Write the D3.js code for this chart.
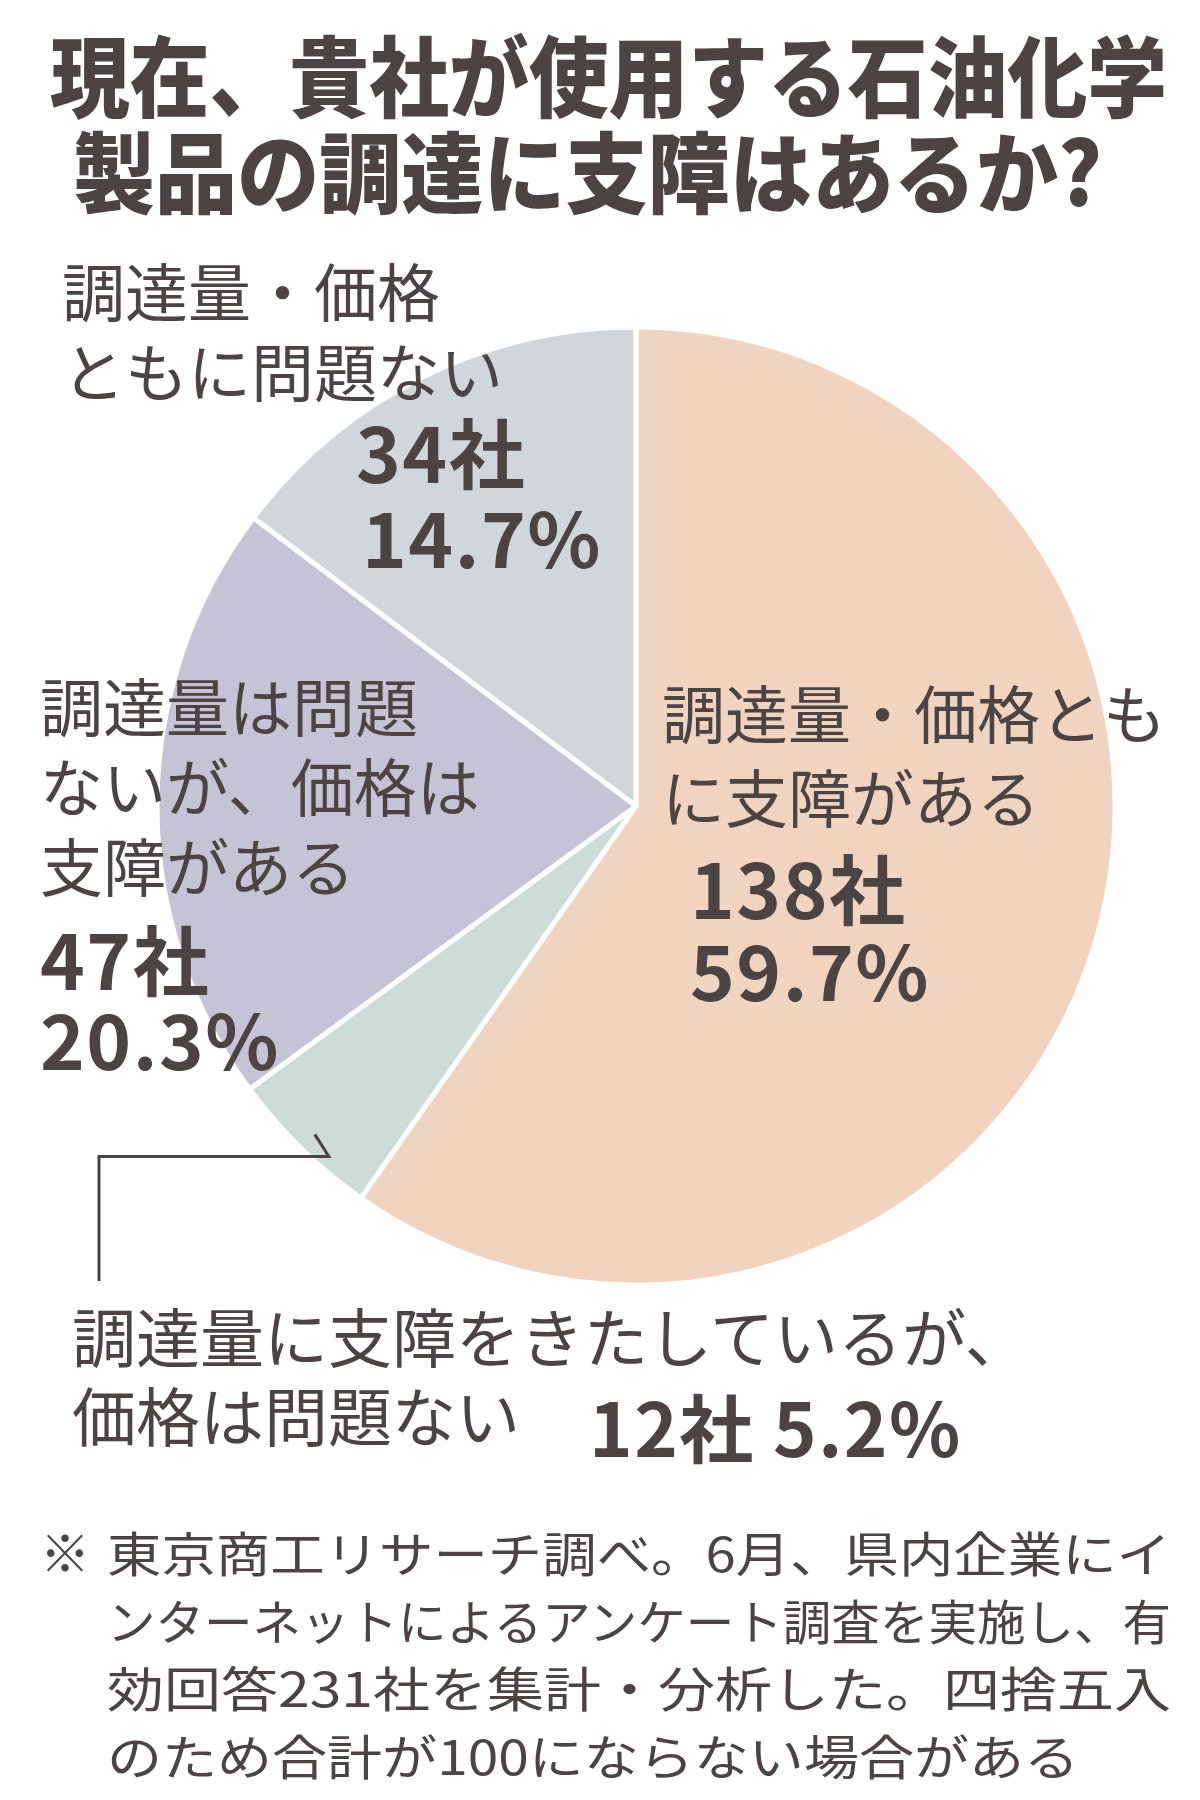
<!DOCTYPE html>
<html>
<head>
<meta charset="utf-8">
<script src="https://cdn.jsdelivr.net/npm/d3@7"></script>
<style>
  body { margin: 0; background: #fff; }
  svg { display: block; }
</style>
</head>
<body>
<svg id="chart" width="1200" height="1800"></svg>
<script>
// survey answers, clockwise from 12 o'clock
const categories = [
    '調達量・価格ともに支障がある',
    '調達量に支障をきたしているが、価格は問題ない',
    '調達量は問題ないが、価格は支障がある',
    '調達量・価格ともに問題ない'
];
const counts = [138, 12, 47, 34];
const percents = ['59.7%', '5.2%', '20.3%', '14.7%'];
const sliceColors = ['#f0d4c0', '#ccdcd8', '#c5c4d7', '#d1d6da'];

const titleLines = ['現在、貴社が使用する石油化学', '製品の調達に支障はあるか?'];
const noteLines = [
    '東京商工リサーチ調べ。6月、県内企業にイ',
    'ンターネットによるアンケート調査を実施し、有',
    '効回答231社を集計・分析した。四捨五入',
    'のため合計が100にならない場合がある'
];

const ink = '#4b4443';
const font = "'Noto Sans CJK JP', 'Noto Sans', sans-serif";

let svg = d3.select('#chart');

// title (a little taller than wide, like the condensed gothic of the original)
let titleBox = [{x: 50, y: 71, w: 1117}, {x: 73, y: 167, w: 1029}];
svg.selectAll('.title')
    .data(titleLines)
    .enter()
    .append('text')
        .attr('class', 'title')
        .attr('transform', (d, i) => 'translate(' + titleBox[i].x + ',' + titleBox[i].y + ') scale(1,1.1)')
        .attr('textLength', (d, i) => titleBox[i].w)
        .attr('lengthAdjust', 'spacingAndGlyphs')
        .attr('dominant-baseline', 'central')
        .attr('font-family', font)
        .attr('font-weight', 900)
        .attr('font-size', 80)
        .attr('fill', ink)
        .text(d => d);

// pie
let cx = 636, cy = 806, radius = 479;
let data = categories.map((c, i) => ({category: c, count: counts[i], pct: percents[i]}));

let pie = d3.pie()
    .sort(null)
    .value(d => d.count);

let arc = d3.arc()
    .innerRadius(0)
    .outerRadius(radius);

let arcs = pie(data);

let colorScale = d3.scaleOrdinal()
    .domain(categories)
    .range(sliceColors);

let g = svg.append('g')
    .attr('transform', 'translate(' + cx + ',' + cy + ')');

g.selectAll('path')
    .data(arcs)
    .enter()
    .append('path')
        .attr('d', arc)
        .attr('fill', d => colorScale(d.data.category))
        .attr('stroke', '#fff')
        .attr('stroke-width', 5)
        .attr('stroke-linejoin', 'round');

// leader line for the small slice
let small = arcs[1];
let anchor = d3.pointRadial(small.startAngle + (small.endAngle - small.startAngle) * 0.33, 466);
let ax = cx + anchor[0], ay = cy + anchor[1];
svg.append('path')
    .attr('d', d3.line()([[99, 1281], [99, ay], [ax, ay], [ax - 14, ay - 22]]))
    .attr('fill', 'none')
    .attr('stroke', ink)
    .attr('stroke-width', 3);

// labels: name lines, then count and share in bold
function label(x, y, lines, gap, numX, numY, numLines, numGap, size, numSize) {
    lines.forEach((t, i) => {
        svg.append('text')
            .attr('x', x)
            .attr('y', y + i * gap)
            .attr('dominant-baseline', 'central')
            .attr('font-family', font)
            .attr('font-weight', 400)
            .attr('font-size', size || 63)
            .attr('fill', ink)
            .text(t);
    });
    numLines.forEach((t, i) => {
        svg.append('text')
            .attr('x', numX)
            .attr('y', numY + i * numGap)
            .attr('dominant-baseline', 'central')
            .attr('font-family', font)
            .attr('font-weight', 700)
            .attr('font-size', numSize || 76)
            .attr('letter-spacing', 1.5)
            .attr('fill', ink)
            .text(t);
    });
}

label(662, 710, ['調達量・価格とも', 'に支障がある'], 84,
    690, 886, [data[0].count + '社', data[0].pct], 82);
label(40, 703, ['調達量は問題', 'ないが、価格は', '支障がある'], 80,
    40, 957, [data[2].count + '社', data[2].pct], 80);
label(62, 288, ['調達量・価格', 'ともに問題ない'], 80,
    356, 450, [data[3].count + '社'], 0);
svg.append('text')
    .attr('x', 362).attr('y', 535)
    .attr('dominant-baseline', 'central')
    .attr('font-family', font).attr('font-weight', 700)
    .attr('font-size', 76).attr('letter-spacing', 1.5)
    .attr('fill', ink)
    .text(data[3].pct);
label(72, 1334, ['調達量に支障をきたしているが、', '価格は問題ない'], 79,
    589, 1424, [data[1].count + '社 ' + data[1].pct], 0, 64, 74);

// footnote
svg.append('text')
    .attr('x', 40).attr('y', 1550)
    .attr('dominant-baseline', 'central')
    .attr('font-family', font).attr('font-weight', 500)
    .attr('font-size', 50)
    .attr('fill', ink)
    .text('※');

let noteWidth = [1064, 1064, 1064, 972];
svg.selectAll('.note')
    .data(noteLines)
    .enter()
    .append('text')
        .attr('class', 'note')
        .attr('x', 107)
        .attr('y', (d, i) => 1551 + i * 67.5)
        .attr('textLength', (d, i) => noteWidth[i])
        .attr('lengthAdjust', 'spacingAndGlyphs')
        .attr('dominant-baseline', 'central')
        .attr('font-family', font)
        .attr('font-weight', 400)
        .attr('font-size', 48)
        .attr('fill', ink)
        .text(d => d);
</script>
</body>
</html>
